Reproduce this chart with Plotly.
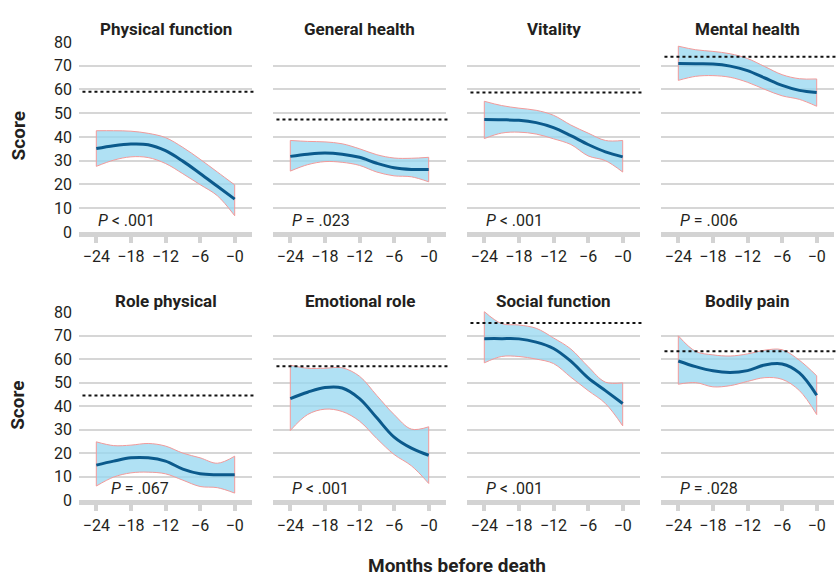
import plotly.graph_objects as go
from plotly.subplots import make_subplots

# ── Data ───────────────────────────────────────────────────────────────────
MONTHS = [-24, -21, -18, -15, -12, -9, -6, -3, 0]
TICK_VALS = [-24, -18, -12, -6, 0]
TICK_TEXT = ['−24', '−18', '−12', '−6', '−0']

TITLES = ['Physical function', 'General health', 'Vitality', 'Mental health',
          'Role physical', 'Emotional role', 'Social function', 'Bodily pain']
P_LABELS = ['< .001', '= .023', '< .001', '= .006',
            '= .067', '< .001', '< .001', '= .028']
REFERENCE = [59.0, 47.3, 58.7, 73.7, 44.6, 57.1, 75.5, 63.4]

PF_MEAN = [35.1, 36.3, 37.0, 36.7, 34.2, 29.8, 24.6, 19.2, 13.8]
PF_HIGH = [42.6, 42.6, 42.4, 41.5, 39.7, 35.6, 30.6, 25.2, 19.8]
PF_LOW = [27.6, 30.2, 31.6, 31.3, 28.8, 24.5, 19.9, 15.2, 6.8]

GH_MEAN = [31.8, 32.7, 33.2, 32.7, 31.4, 28.9, 27.0, 26.3, 26.3]
GH_HIGH = [38.5, 38.1, 37.9, 37.1, 35.0, 32.5, 31.1, 31.0, 31.4]
GH_LOW = [25.6, 28.3, 29.6, 29.3, 28.0, 25.2, 23.6, 23.2, 21.1]

VT_MEAN = [47.3, 47.2, 47.0, 46.0, 43.9, 40.5, 36.8, 33.7, 31.6]
VT_HIGH = [55.0, 53.2, 52.1, 51.2, 49.1, 45.0, 41.6, 38.5, 38.5]
VT_LOW = [39.3, 41.6, 42.0, 41.2, 39.2, 36.8, 32.0, 30.0, 25.2]

MH_MEAN = [70.9, 70.8, 70.7, 69.8, 67.9, 64.8, 61.7, 59.6, 58.7]
MH_HIGH = [78.2, 76.7, 76.0, 75.0, 73.0, 69.6, 66.2, 64.5, 64.4]
MH_LOW = [63.8, 65.5, 65.8, 65.1, 63.0, 60.0, 57.3, 55.8, 52.9]

RP_MEAN = [15.0, 16.7, 18.1, 18.1, 16.7, 13.3, 11.3, 10.9, 10.9]
RP_HIGH = [24.9, 23.3, 23.5, 24.2, 23.1, 20.1, 18.1, 15.8, 18.8]
RP_LOW = [6.1, 9.9, 11.7, 12.0, 11.3, 8.6, 5.9, 5.4, 3.1]

ER_MEAN = [43.3, 46.0, 48.0, 47.8, 43.3, 35.1, 26.9, 22.2, 19.2]
ER_HIGH = [57.5, 56.2, 56.2, 56.4, 52.8, 44.6, 36.5, 30.3, 31.3]
ER_LOW = [29.7, 36.5, 38.8, 37.8, 33.7, 26.3, 19.5, 14.7, 7.2]

SF_MEAN = [68.8, 68.8, 68.7, 67.3, 64.6, 59.2, 52.1, 46.7, 41.2]
SF_HIGH = [80.3, 75.2, 74.6, 73.2, 69.1, 64.4, 56.9, 50.3, 50.0]
SF_LOW = [58.5, 61.2, 61.2, 60.1, 58.2, 52.4, 46.7, 41.2, 31.7]

BP_MEAN = [59.3, 56.9, 55.1, 54.4, 55.2, 57.6, 58.0, 54.2, 44.7]
BP_HIGH = [70.0, 63.4, 61.9, 61.4, 62.3, 63.9, 64.1, 59.6, 53.0]
BP_LOW = [49.4, 50.1, 48.3, 48.8, 50.6, 52.2, 51.5, 46.7, 36.5]

PANELS = [
    (PF_MEAN, PF_LOW, PF_HIGH), (GH_MEAN, GH_LOW, GH_HIGH),
    (VT_MEAN, VT_LOW, VT_HIGH), (MH_MEAN, MH_LOW, MH_HIGH),
    (RP_MEAN, RP_LOW, RP_HIGH), (ER_MEAN, ER_LOW, ER_HIGH),
    (SF_MEAN, SF_LOW, SF_HIGH), (BP_MEAN, BP_LOW, BP_HIGH),
]

# ── Style ──────────────────────────────────────────────────────────────────
W, H = 839, 585
FONT = 'Roboto, sans-serif'
TEXT = '#231f20'
LINE = '#0b5a8c'
BAND = 'rgba(150,215,240,0.75)'
EDGE = '#f29a9a'
GRID = '#d6d6d6'
AXIS = '#d3d3d3'

COL_PX = [(79, 252), (273, 446), (467, 640), (661, 834)]
ROW_PX = [(34, 231), (313, 508)]
TITLE_Y = [22, 302]
Y_RANGE = [0, 80.4]
X_RANGE = [-27, 3]

fig = make_subplots(rows=2, cols=4)

for i, (mean, low, high) in enumerate(PANELS):
    r, c = i // 4 + 1, i % 4 + 1
    fig.add_trace(go.Scatter(x=MONTHS, y=low, mode='lines',
                             line=dict(color=EDGE, width=1, shape='spline'),
                             showlegend=False, hoverinfo='skip'), row=r, col=c)
    fig.add_trace(go.Scatter(x=MONTHS, y=high, mode='lines', fill='tonexty',
                             fillcolor=BAND,
                             line=dict(color=EDGE, width=1, shape='spline'),
                             showlegend=False, hoverinfo='skip'), row=r, col=c)
    # closing edges of the band
    for k in (0, -1):
        fig.add_trace(go.Scatter(x=[MONTHS[k], MONTHS[k]], y=[low[k], high[k]],
                                 mode='lines', line=dict(color=EDGE, width=1),
                                 showlegend=False, hoverinfo='skip'), row=r, col=c)
    fig.add_trace(go.Scatter(x=MONTHS, y=mean, mode='lines',
                             line=dict(color=LINE, width=3, shape='spline'),
                             showlegend=False), row=r, col=c)

    xa = 'xaxis' if i == 0 else f'xaxis{i + 1}'
    ya = 'yaxis' if i == 0 else f'yaxis{i + 1}'
    x0, x1 = COL_PX[c - 1]
    y0, y1 = ROW_PX[r - 1]
    fig.layout[xa].update(
        domain=[x0 / W, x1 / W], range=X_RANGE, tickvals=TICK_VALS, ticktext=TICK_TEXT,
        showgrid=False, zeroline=False, showline=True, linecolor=AXIS, linewidth=5,
        ticks='outside', ticklen=6, tickwidth=4, tickcolor=AXIS,
        tickfont=dict(size=16, color=TEXT, family=FONT),
    )
    fig.layout[ya].update(
        domain=[1 - y1 / H, 1 - y0 / H], range=Y_RANGE, tickvals=list(range(0, 90, 10)),
        showgrid=True, gridcolor=GRID, gridwidth=1.5, zeroline=False, showline=False,
        showticklabels=(c == 1), ticks='', ticklabelstandoff=6,
        tickfont=dict(size=16, color=TEXT, family=FONT),
    )
    xref = 'x' if i == 0 else f'x{i + 1}'
    yref = 'y' if i == 0 else f'y{i + 1}'
    fig.add_shape(type='line', xref=f'{xref} domain', yref=yref,
                  x0=0.02, x1=1.01, y0=REFERENCE[i], y1=REFERENCE[i],
                  line=dict(color='#111111', width=2, dash='dot'))
    fig.add_annotation(xref=xref, yref=yref, x=-21.8 if i == 4 else -24, y=5,
                       xanchor='left', yanchor='middle', showarrow=False,
                       text=f'<i>P</i> {P_LABELS[i]}',
                       font=dict(size=16, color=TEXT, family=FONT))
    fig.add_annotation(xref='paper', yref='paper', x=(x0 + x1) / 2 / W,
                       y=1 - TITLE_Y[r - 1] / H,
                       xanchor='center', yanchor='middle', showarrow=False,
                       text=f'<b>{TITLES[i]}</b>',
                       font=dict(size=17, color=TEXT, family=FONT))

for y0, y1 in ROW_PX:
    fig.add_annotation(xref='paper', yref='paper', x=18 / W, y=1 - (y0 + y1) / 2 / H,
                       xanchor='center', yanchor='middle', showarrow=False, textangle=-90,
                       text='<b>Score</b>', font=dict(size=19, color=TEXT, family=FONT))

fig.add_annotation(xref='paper', yref='paper', x=457 / W, y=1 - 575 / H,
                   xanchor='center', yanchor='middle', showarrow=False,
                   text='<b>Months before death</b>', font=dict(size=19, color=TEXT, family=FONT))

fig.update_layout(
    width=W, height=H,
    margin=dict(l=0, r=0, t=0, b=0),
    plot_bgcolor='white', paper_bgcolor='white',
    font=dict(family=FONT, color=TEXT),
    hovermode='closest',
)

fig.write_html('out.html', config={'displayModeBar': False},
               post_script="document.body.style.margin='0';")
